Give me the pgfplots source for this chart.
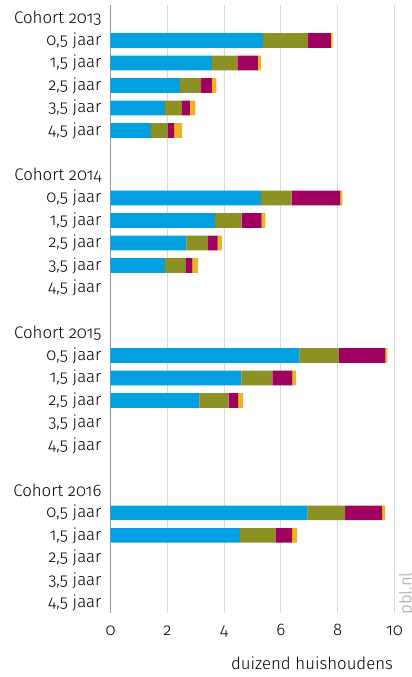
\documentclass[border=0pt]{standalone}
\usepackage{fontspec}
\setmainfont{Fira Sans Light}[Numbers=OldStyle]
\usepackage{pgfplots}
\usepackage{pgfplotstable}
\pgfplotsset{compat=1.18}

\definecolor{pblblauw}{RGB}{0,160,225}
\definecolor{pblolijf}{RGB}{140,145,35}
\definecolor{pblpaars}{RGB}{160,0,95}
\definecolor{pblgeel}{RGB}{240,178,30}
\definecolor{rasterg}{RGB}{218,218,218}
\definecolor{asg}{RGB}{150,150,150}

% pos = row slot (0 = Cohort 2013 header, going down)
\pgfplotstableread{
pos  a    b    c    d
-1   5.37 1.59 0.80 0.06
-2   3.57 0.90 0.72 0.10
-3   2.44 0.75 0.38 0.16
-4   1.91 0.60 0.28 0.20
-5   1.42 0.60 0.22 0.28
-8   5.30 1.08 1.70 0.08
-9   3.68 0.94 0.70 0.13
-10  2.67 0.76 0.34 0.15
-11  1.92 0.73 0.23 0.20
-15  6.66 1.38 1.64 0.07
-16  4.61 1.09 0.70 0.13
-17  3.13 1.03 0.33 0.18
-22  6.94 1.32 1.30 0.11
-23  4.56 1.26 0.57 0.18
}\cohorten

\begin{document}
\begin{tikzpicture}[font=\fontsize{12.6}{14.8}\selectfont]
\begin{axis}[
    width=213pt, height=456pt, scale only axis,
    xbar stacked, bar width=11pt,
    xmin=0, xmax=10, ymin=-26.45, ymax=0.58,
    xtick={0,2,...,10},
    ytick={0,-1,-2,-3,-4,-5,-7,-8,-9,-10,-11,-12,-14,-15,-16,-17,-18,-19,-21,-22,-23,-24,-25,-26},
    yticklabels={Cohort 2013,{0,5 jaar},{1,5 jaar},{2,5 jaar},{3,5 jaar},{4,5 jaar},
                 Cohort 2014,{0,5 jaar},{1,5 jaar},{2,5 jaar},{3,5 jaar},{4,5 jaar},
                 Cohort 2015,{0,5 jaar},{1,5 jaar},{2,5 jaar},{3,5 jaar},{4,5 jaar},
                 Cohort 2016,{0,5 jaar},{1,5 jaar},{2,5 jaar},{3,5 jaar},{4,5 jaar}},
    major tick length=0pt,
    xmajorgrids, grid style={rasterg, line width=0.75pt},
    axis line style={draw=none},
    /pgf/number format/assume math mode=true,
    xticklabel style={anchor=base, yshift=-17pt},
    yticklabel style={anchor=east, inner sep=0pt, xshift=-6.6pt},
    xlabel={duizend huishoudens},
    xlabel style={at={(axis description cs:1,0)}, anchor=base east, inner sep=0pt, yshift=-42pt, xshift=-1pt},
    clip=false,
]
\addplot[draw=none, fill=pblblauw] table[x=a, y=pos] {\cohorten};
\addplot[draw=none, fill=pblolijf] table[x=b, y=pos] {\cohorten};
\addplot[draw=none, fill=pblpaars] table[x=c, y=pos] {\cohorten};
\addplot[draw=none, fill=pblgeel] table[x=d, y=pos] {\cohorten};
\draw[asg, line width=0.75pt] (rel axis cs:0,0) -- (rel axis cs:0,1);
\node[rotate=90, anchor=north west, inner sep=0pt, text={rgb,255:red,160;green,160;blue,160},
      font=\fontsize{12.5}{14}\selectfont] at (axis cs:10.15,-26.53) {pbl.nl};
\end{axis}
\pgfresetboundingbox
\path (-82.9pt,-48pt) rectangle (225.4pt,459.75pt);
\end{tikzpicture}
\end{document}
